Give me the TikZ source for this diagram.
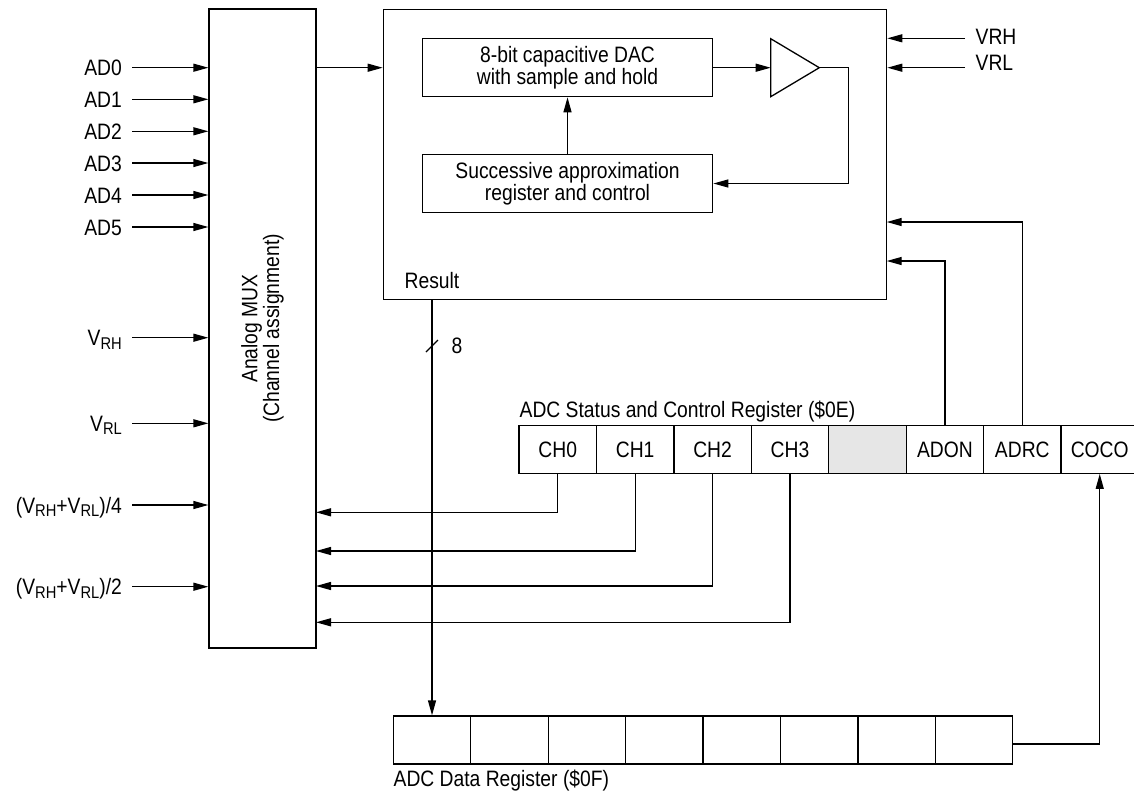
\documentclass[tikz,border=0pt]{standalone}
\usepackage{fontspec}
\setmainfont{Liberation Sans}[FakeStretch=0.865]
\usetikzlibrary{arrows.meta,calc}
\newcommand\sbs[1]{\raisebox{-3.5pt}{\fontsize{17}{17}\selectfont #1}}
\begin{document}
\begin{tikzpicture}[x=1pt,y=-1pt,
  line width=1.3pt,
  every node/.style={font=\fontsize{22.3}{20.6}\selectfont, inner sep=0pt},
  arr/.style={-{Triangle[length=15pt,width=8pt]}},
  box/.style={draw, inner sep=0pt},
  cell/.style={draw, minimum width=77.43pt, minimum height=47.6pt},
  dcell/.style={draw, minimum width=77.43pt, minimum height=48pt},
  lbl/.style={anchor=east, text height=16pt, text depth=0pt, inner xsep=9.5pt}
]
\useasboundingbox (0,0) rectangle (1134,796);

% Analog MUX
\node[box, minimum width=107pt, minimum height=639pt] (mux) at (262.5,328.5) {};
\node[rotate=90, align=center] (muxlbl) at (mux.center) {Analog MUX\\(Channel assignment)};

% main converter block
\node[box, minimum width=503.4pt, minimum height=290pt] (main) at (635,154.3) {};
\node[box, minimum width=290.4pt, minimum height=58pt, align=center] (dac) at (567.5,67.7) {8-bit capacitive DAC\\with sample and hold};
\node[box, minimum width=290.4pt, minimum height=57.6pt, align=center] (sar) at (567.5,183.5) {Successive approximation\\register and control};
\coordinate (ampin) at (770.7,67.7);
\coordinate (ampout) at (819.3,67.7);
\draw (770.7,38.7) -- (ampout) -- (770.7,96.7) -- cycle;
\node[anchor=base west] (result) at (404,288.7) {Result};

\draw[arr] (dac.east) -- (ampin);
\draw[arr] (sar.north) -- (dac.south);
\draw[arr] (ampout) -- ++(29,0) |- (sar.east);
\draw[arr] (mux.east |- dac) -- (main.west |- dac);

% inputs on the left
\foreach \n/\t/\y in {ad0/AD0/67.7, ad1/AD1/99.3, ad2/AD2/131.3, ad3/AD3/163, ad4/AD4/195, ad5/AD5/227,
  vrh/{V\sbs{RH}}/337.7, vrl/{V\sbs{RL}}/423.3,
  vq/{(V\sbs{RH}+V\sbs{RL})/4}/505, vh/{(V\sbs{RH}+V\sbs{RL})/2}/586.7}{
  \node[lbl] (\n) at (132,\y) {\t};
  \draw[arr] (\n.east) -- (\n.east -| mux.west);
}

% VRH / VRL on the right
\node[anchor=west] (vrhr) at (975,37) {VRH};
\node[anchor=west] (vrlr) at (975,62.5) {VRL};
\coordinate (vrhs) at (965,38.3);
\coordinate (vrls) at (965,67.7);
\draw[arr] (vrhs) -- (vrhs -| main.east);
\draw[arr] (vrls) -- (vrls -| main.east);

% status and control register
\node[anchor=base west] (sctitle) at (519,417.7) {ADC Status and Control Register (\$0E)};
\foreach \i/\t in {0/CH0,1/CH1,2/CH2,3/CH3,5/ADON,6/ADRC,7/COCO}{
  \node[cell] (sc\i) at ({519+77.43*(\i+0.5)},449.5) {\t};
}
\node[cell, fill={rgb,255:red,230;green,230;blue,230}] (sc4) at ({519+77.43*4.5},449.5) {};

% data register
\foreach \i in {0,...,7}{
  \node[dcell] (dr\i) at ({393.3+77.43*(\i+0.5)},740) {};
}
\node[anchor=base west] (drtitle) at (393,786.7) {ADC Data Register (\$0F)};

% result bus
\draw[arr] (dr0.north |- main.south) -- (dr0.north);
\coordinate (bus) at (432,346);
\draw (bus) ++(-6,6) -- ++(12,-12);
\node[anchor=base west] (eight) at (451,353) {8};

% channel select lines back to the MUX
\coordinate (m0) at (316,512.3);
\coordinate (m1) at (316,551);
\coordinate (m2) at (316,586);
\coordinate (m3) at (316,622.3);
\draw[arr] (sc0.south) |- (m0);
\draw[arr] (sc1.south) |- (m1);
\draw[arr] (sc2.south) |- (m2);
\draw[arr] (sc3.south) |- (m3);

% ADON / ADRC into the converter
\coordinate (adrcin) at (886.7,222);
\coordinate (adonin) at (886.7,261);
\draw[arr] (sc6.north) |- (adrcin);
\draw[arr] (sc5.north) |- (adonin);

% COCO from data register
\draw[arr] ([yshift=-4pt]dr7.east) -| (sc7.south);
\end{tikzpicture}
\end{document}
